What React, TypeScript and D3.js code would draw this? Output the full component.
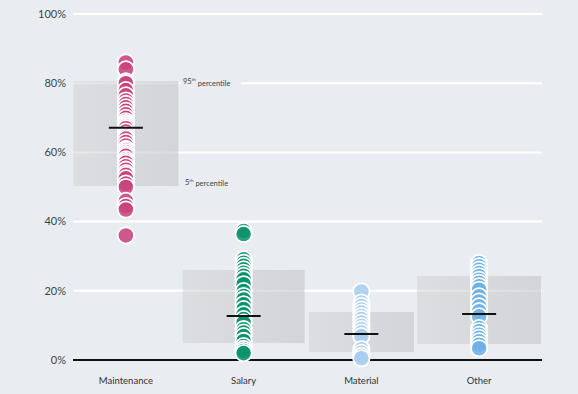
import React from "react";
import * as d3 from "d3";

// categories and their colours
const categories = ["Maintenance", "Salary", "Material", "Other"];
const colors = ["#c8437c", "#0b936c", "#a9cdef", "#6eb1e4"];

const maintenance = [
	86, 84, 80.5, 80, 78, 76.5, 75, 74, 73, 72, 71, 70, 69, 68.5, 68, 67.5, 67, 66, 65, 64.5, 64, 63, 62, 61,
	60.5, 60, 59.5, 59, 58, 57.5, 57, 56, 55, 54, 53.5, 52.5, 51, 50, 46, 44.5, 43.5, 36,
];
const salary = [
	37.3, 36.4, 29.1, 28.1, 27.2, 26.2, 25.2, 24.3, 23.3, 21.9, 19.9, 18.5, 17.5, 16.1, 14.7, 13.2, 11.8, 10.8,
	8.9, 7.9, 6.9, 5.5, 4.0, 3.2, 2.6, 2.0,
];
const material = [19.8, 16.6, 15.6, 14.6, 13.7, 12.7, 11.8, 10.8, 9.8, 8.9, 7.9, 6.9, 3.1, 2.1, 1.2, 0.5];
const other = [
	28.0, 27.1, 26.1, 25.1, 24.2, 23.2, 22.3, 21.3, 20.3, 18.4, 16.9, 15.5, 14.1, 12.6, 9.2, 8.3, 7.3, 6.4, 5.4,
	4.4, 3.4,
];
const series = [maintenance, salary, material, other];

// summary stats per category
const means = [67.1, 12.7, 7.5, 13.3];
const p5 = [50.3, 4.9, 2.3, 4.6];
const p95 = [80.6, 26.0, 13.9, 24.3];

const yTicks = [0, 20, 40, 60, 80, 100];

// box widths in px (style, not data)
const boxWidths = [105, 122, 105, 124];

export default function App() {
	const width = 578;
	const height = 394;
	const gridLeft = 73;
	const gridRight = 542;

	const x = d3.scaleBand<string>().domain(categories).range([67, 538]);
	const y = d3.scaleLinear().domain([0, 100]).range([360, 14]);
	const cx = (i: number) => (x(categories[i]) ?? 0) + x.bandwidth() / 2;

	const font = "Lato, 'Open Sans', sans-serif";

	return (
		<div style={{ position: "fixed", left: 0, top: 0 }}>
			<svg width={width} height={height} style={{ display: "block", background: "#e9ecf0" }}>
				<defs>
					<linearGradient id="boxGrad" x1="0" x2="1" y1="0" y2="0">
						<stop offset="0%" stopColor="#c9c9cb" stopOpacity={0.42} />
						<stop offset="100%" stopColor="#c2c3c6" stopOpacity={0.58} />
					</linearGradient>
				</defs>

				{/* gridlines */}
				{yTicks
					.filter((t) => t > 0)
					.map((t) => (
						<line key={t} x1={gridLeft} x2={gridRight} y1={y(t)} y2={y(t)} stroke="#ffffff" strokeWidth={2} />
					))}

				{/* y labels */}
				{yTicks.map((t) => (
					<text
						key={t}
						x={66}
						y={y(t)}
						dy="0.35em"
						textAnchor="end"
						fontFamily={font}
						fontSize={11}
						fill="#444"
					>
						{t}%
					</text>
				))}

				{/* percentile boxes */}
				{categories.map((c, i) => (
					<rect
						key={c}
						x={cx(i) - boxWidths[i] / 2}
						y={y(p95[i])}
						width={boxWidths[i]}
						height={y(p5[i]) - y(p95[i])}
						fill="url(#boxGrad)"
					/>
				))}

				{/* percentile labels next to the first box */}
				<rect x={181} y={y(p95[0]) - 6} width={60} height={11} fill="#e9ecf0" />
				<text x={183} y={y(p95[0])} dy="0.35em" fontFamily={font} fontSize={7.5} fill="#444">
					95<tspan fontSize={4.5} dy="-0.6em">th</tspan>
					<tspan dy="0.6em"> percentile</tspan>
				</text>
				<text x={185} y={y(p5[0]) - 4} dy="0.35em" fontFamily={font} fontSize={7.5} fill="#444">
					5<tspan fontSize={4.5} dy="-0.6em">th</tspan>
					<tspan dy="0.6em"> percentile</tspan>
				</text>

				{/* zero line */}
				<line x1={gridLeft} x2={gridRight} y1={y(0)} y2={y(0)} stroke="#111" strokeWidth={2} />

				{/* dots: highest first so lower ones sit on top */}
				{series.map((vals, i) => (
					<g key={categories[i]}>
						{[...vals]
							.sort((a, b) => b - a)
							.map((v, j) => (
								<circle
									key={j}
									cx={cx(i)}
									cy={y(v)}
									r={8.2}
									fill={colors[i]}
									fillOpacity={0.88}
									stroke="#ffffff"
									strokeWidth={1.8}
								/>
							))}
					</g>
				))}

				{/* mean markers */}
				{means.map((m, i) => (
					<line
						key={i}
						x1={cx(i) - 17}
						x2={cx(i) + 17}
						y1={y(m)}
						y2={y(m)}
						stroke="#111"
						strokeWidth={2}
					/>
				))}

				{/* x labels */}
				{categories.map((c, i) => (
					<text
						key={c}
						x={cx(i)}
						y={384}
						textAnchor="middle"
						fontFamily={font}
						fontSize={9.5}
						fill="#333"
					>
						{c}
					</text>
				))}
			</svg>
		</div>
	);
}
